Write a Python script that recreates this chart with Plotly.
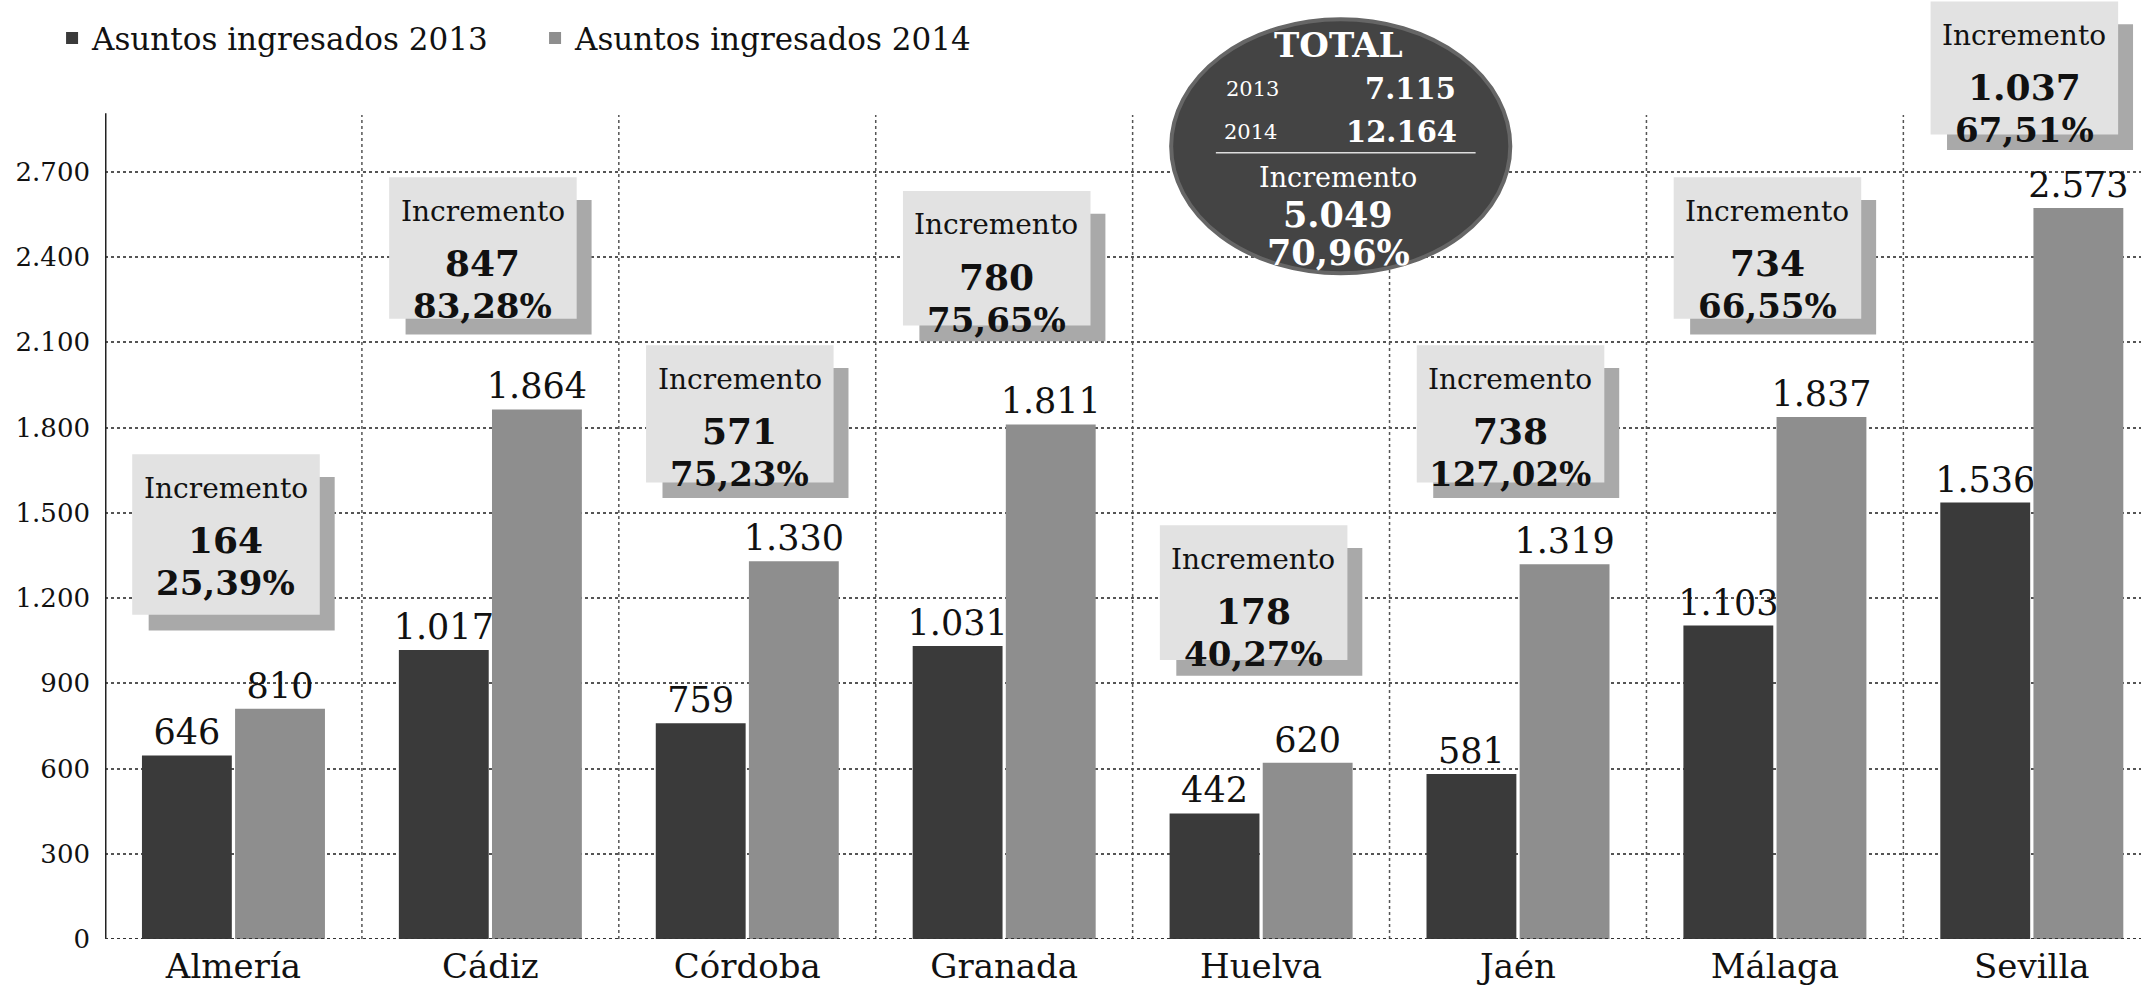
import plotly.graph_objects as go

# ---------------- data ----------------
provinces = ["Almería", "Cádiz", "Córdoba", "Granada", "Huelva", "Jaén", "Málaga", "Sevilla"]
asuntos_2013 = [646, 1017, 759, 1031, 442, 581, 1103, 1536]
asuntos_2014 = [810, 1864, 1330, 1811, 620, 1319, 1837, 2573]
y_tick_vals = [0, 300, 600, 900, 1200, 1500, 1800, 2100, 2400, 2700]
y_tick_labels = ["0", "300", "600", "900", "1.200", "1.500", "1.800", "2.100", "2.400", "2.700"]
series_names = ["Asuntos ingresados 2013", "Asuntos ingresados 2014"]

# layout positions of the "Incremento" boxes (top / bottom, in axis units)
box_top = [1706, 2681, 2090, 2633, 1456, 2090, 2681, 3300]
box_bottom = [1086, 2128, 1552, 2104, 927, 1552, 2128, 2777]


def fmt_int(n):
    return f"{n:,}".replace(",", ".")


def fmt_pct(p):
    return f"{p:.2f}".replace(".", ",") + "%"


FONT = "DejaVu Serif"
DARK = "#3a3a3a"
LIGHT = "#8e8e8e"

fig = go.Figure()
fig.add_trace(go.Bar(
    x=provinces, y=asuntos_2013, name=series_names[0],
    marker=dict(color=DARK, line=dict(width=0)),
    text=[fmt_int(v) for v in asuntos_2013], textposition="outside",
    textfont=dict(family=FONT, size=35, color="#111"), cliponaxis=False,
    constraintext="none",
))
fig.add_trace(go.Bar(
    x=provinces, y=asuntos_2014, name=series_names[1],
    marker=dict(color=LIGHT, line=dict(width=0)),
    text=[fmt_int(v) for v in asuntos_2014], textposition="outside",
    textfont=dict(family=FONT, size=35, color="#111"), cliponaxis=False,
    constraintext="none",
))

shapes = []
annotations = []

# vertical dotted separators between provinces
for i in range(len(provinces) - 1):
    shapes.append(dict(type="line", xref="x", yref="y", x0=i + 0.5, x1=i + 0.5,
                       y0=0, y1=2900, layer="below",
                       line=dict(color="#555", width=1.5, dash="dot")))
# y axis line
shapes.append(dict(type="line", xref="x", yref="y", x0=-0.5, x1=-0.5, y0=0, y1=2906,
                   layer="above", line=dict(color="#222", width=3)))
# baseline
shapes.append(dict(type="line", xref="paper", yref="y", x0=0, x1=1, y0=0, y1=0,
                   layer="above", line=dict(color="#333", width=2, dash="dot")))

# Incremento boxes
for i, p in enumerate(provinces):
    inc = asuntos_2014[i] - asuntos_2013[i]
    pct = inc / asuntos_2013[i] * 100
    top, bot = box_top[i], box_bottom[i]
    c = i
    # shadow
    shapes.append(dict(type="rect", xref="x", yref="y", x0=c - 0.33, x1=c + 0.394,
                       y0=bot, y1=top - 80, line=dict(width=0), fillcolor="#a9a9a9",
                       layer="above"))
    # main box
    shapes.append(dict(type="rect", xref="x", yref="y", x0=c - 0.394, x1=c + 0.336,
                       y0=bot + 55, y1=top, line=dict(width=0), fillcolor="#e2e2e2",
                       layer="above"))
    cx = c - 0.03
    annotations.append(dict(x=cx, y=top, xref="x", yref="y", yshift=-34, text="Incremento",
                            showarrow=False, yanchor="middle",
                            font=dict(family=FONT, size=28, color="#111")))
    annotations.append(dict(x=cx, y=top, xref="x", yref="y", yshift=-86, text=f"<b>{fmt_int(inc)}</b>",
                            showarrow=False, yanchor="middle",
                            font=dict(family=FONT, size=36, color="#111")))
    annotations.append(dict(x=cx, y=top, xref="x", yref="y", yshift=-129, text=f"<b>{fmt_pct(pct)}</b>",
                            showarrow=False, yanchor="middle",
                            font=dict(family=FONT, size=34, color="#111")))

# TOTAL circle
tot13 = sum(asuntos_2013)
tot14 = sum(asuntos_2014)
tinc = tot14 - tot13
tpct = tinc / tot13 * 100
ccx, ccy, rx, ry = 4.31, 2790, 0.66, 447
shapes.append(dict(type="circle", xref="x", yref="y", x0=ccx - rx, x1=ccx + rx,
                   y0=ccy - ry, y1=ccy + ry, fillcolor="#444444",
                   line=dict(color="#666666", width=4), layer="above"))
shapes.append(dict(type="line", xref="x", yref="y", x0=3.824, x1=4.835, y0=2767, y1=2767,
                   line=dict(color="#dddddd", width=1.5), layer="above"))
W = "#ffffff"
annotations += [
    dict(x=ccx - 0.01, y=3147, text="<b>TOTAL</b>", font=dict(family=FONT, size=34, color=W)),
    dict(x=3.968, y=2993, text="2013", font=dict(family=FONT, size=21, color=W)),
    dict(x=4.58, y=2993, text=f"<b>{fmt_int(tot13)}</b>", font=dict(family=FONT, size=29, color=W)),
    dict(x=3.957, y=2839, text="2014", font=dict(family=FONT, size=21, color=W)),
    dict(x=4.548, y=2839, text=f"<b>{fmt_int(tot14)}</b>", font=dict(family=FONT, size=29, color=W)),
    dict(x=ccx - 0.01, y=2681, text="Incremento", font=dict(family=FONT, size=27, color=W)),
    dict(x=ccx - 0.01, y=2551, text=f"<b>{fmt_int(tinc)}</b>", font=dict(family=FONT, size=35, color=W)),
    dict(x=ccx - 0.01, y=2417, text=f"<b>{fmt_pct(tpct)}</b>", font=dict(family=FONT, size=35, color=W)),
]
for a in annotations[-8:]:
    a.update(xref="x", yref="y", showarrow=False, yanchor="middle")

fig.update_layout(
    width=2141, height=986,
    margin=dict(l=105, r=0, t=0, b=47),
    paper_bgcolor="white", plot_bgcolor="white",
    font=dict(family=FONT, color="#111"),
    barmode="group", bargap=0.275, bargroupgap=0.035,
    shapes=shapes, annotations=annotations,
    showlegend=True,
    legend=dict(orientation="h", x=-0.026, y=0.988, xanchor="left", yanchor="top",
                font=dict(family=FONT, size=31, color="#111"), bgcolor="rgba(0,0,0,0)",
                itemwidth=30, entrywidth=438, entrywidthmode="pixels"),
)
fig.update_xaxes(range=[-0.5, 7.425], showgrid=False, showline=False, ticks="",
                 tickfont=dict(family=FONT, size=34, color="#111"), ticklabelstandoff=4,
                 zeroline=False)
fig.update_yaxes(range=[0, 3305], tickvals=y_tick_vals, ticktext=y_tick_labels,
                 showgrid=True, gridcolor="#555", griddash="dot", gridwidth=1.5,
                 showline=False, ticks="", zeroline=False, ticklabelstandoff=14,
                 tickfont=dict(family=FONT, size=26, color="#111"))

fig.write_html("out.html")
